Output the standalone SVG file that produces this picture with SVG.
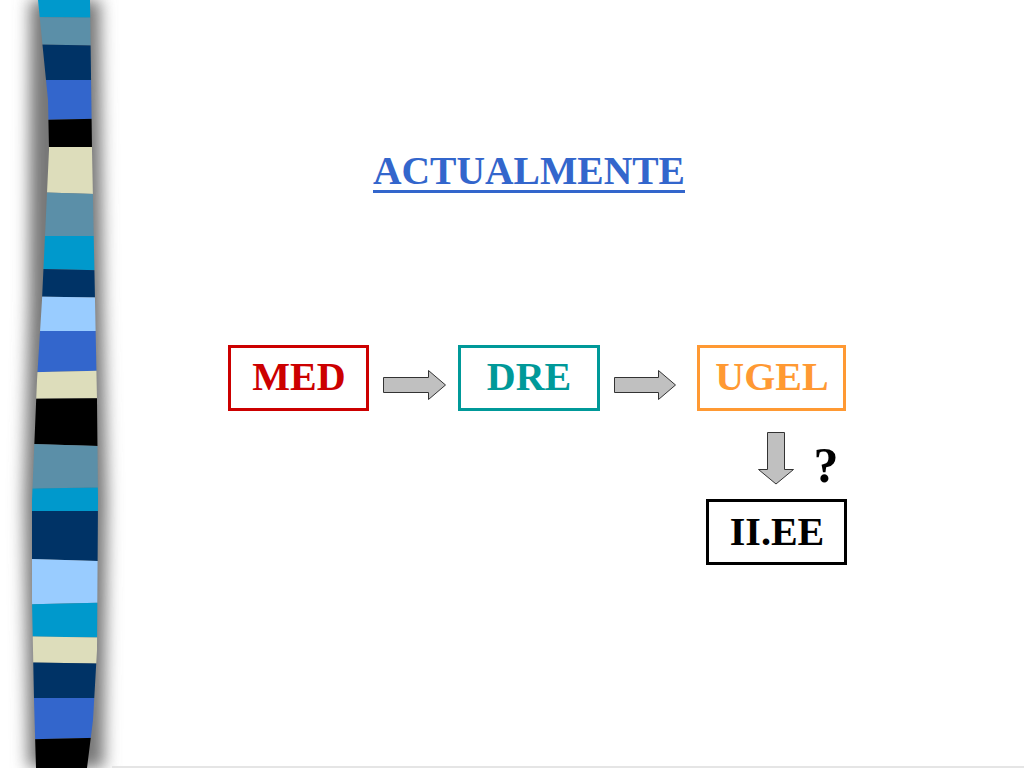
<svg xmlns="http://www.w3.org/2000/svg" width="1024" height="768" viewBox="0 0 1024 768">
<defs>
<style>
.box{fill:#fff;stroke-width:3}
.lbl{font-family:"Liberation Serif","Times New Roman",serif;font-weight:bold;font-size:40px;text-anchor:middle}
.arr{fill:#C0C0C0;stroke:#333;stroke-width:1}
</style>
<clipPath id="stripClip">
<path d="M38,0 L90,0 L92,150 L95,300 L97,400 L98,500 L97,650 L93,720 L87,768 L36,768 L34,700 L32,600 L32,500 L37,380 L42,300 L49,150 L48,100 Z"/>
</clipPath>
<filter id="blur" x="-1" y="-0.1" width="3" height="1.2"><feGaussianBlur stdDeviation="8"/></filter>
</defs>
<rect width="1024" height="768" fill="#fff"/>
<g id="strip">
<path d="M30,0 L100,0 L103,300 L107,500 L104,768 L28,768 L24,500 L29,300 Z" fill="#777" filter="url(#blur)"/>
<g clip-path="url(#stripClip)">
<polygon points="0,0 130,0 130,18 0,17" fill="#0099CC"/>
<polygon points="0,17 130,18 130,46 0,44" fill="#5B8FA8"/>
<polygon points="0,44 130,46 130,80 0,80" fill="#003366"/>
<polygon points="0,80 130,80 130,118 0,121" fill="#3366CC"/>
<polygon points="0,121 130,118 130,147 0,147" fill="#000"/>
<polygon points="0,147 130,147 130,195 0,191" fill="#DDDDBB"/>
<polygon points="0,191 130,195 130,236 0,236" fill="#5B8FA8"/>
<polygon points="0,236 130,236 130,271 0,268" fill="#0099CC"/>
<polygon points="0,268 130,271 130,298 0,296" fill="#003366"/>
<polygon points="0,296 130,298 130,331 0,331" fill="#99CCFF"/>
<polygon points="0,331 130,331 130,370 0,373" fill="#3366CC"/>
<polygon points="0,373 130,370 130,398 0,399" fill="#DDDDBB"/>
<polygon points="0,399 130,398 130,447 0,443" fill="#000"/>
<polygon points="0,443 130,447 130,487 0,489" fill="#5B8FA8"/>
<polygon points="0,489 130,487 130,511 0,511" fill="#0099CC"/>
<polygon points="0,511 130,511 130,562 0,558" fill="#003366"/>
<polygon points="0,558 130,562 130,602 0,605" fill="#99CCFF"/>
<polygon points="0,605 130,602 130,638 0,636" fill="#0099CC"/>
<polygon points="0,636 130,638 130,664 0,662" fill="#DDDDBB"/>
<polygon points="0,662 130,664 130,698 0,698" fill="#003366"/>
<polygon points="0,698 130,698 130,737 0,740" fill="#3366CC"/>
<polygon points="0,740 130,737 130,768 0,768" fill="#000"/>
</g>
</g>
<line x1="112" y1="767" x2="1024" y2="767" stroke="#ddd" stroke-width="1.5"/>
<g id="title">
<text x="529" y="184" class="lbl" fill="#3366CC" textLength="312" lengthAdjust="spacingAndGlyphs">ACTUALMENTE</text>
<rect x="373" y="190" width="312" height="3" fill="#3366CC"/>
</g>
<g id="connectors">
<polygon class="arr" points="383.5,377.5 428.5,377.5 428.5,370.5 445.5,385 428.5,399.5 428.5,392.5 383.5,392.5"/>
<polygon class="arr" points="614.5,377.5 658.5,377.5 658.5,370.5 675.5,385 658.5,399.5 658.5,392.5 614.5,392.5"/>
<polygon class="arr" points="767.5,432.5 784.5,432.5 784.5,469.5 793.5,469.5 776,484 758.5,469.5 767.5,469.5"/>
</g>
<g id="med">
<rect class="box" x="229.5" y="346.5" width="138" height="63" stroke="#CC0000"/>
<text x="299" y="390" class="lbl" fill="#CC0000">MED</text>
</g>
<g id="dre">
<rect class="box" x="459.5" y="346.5" width="139" height="63" stroke="#009999"/>
<text x="529" y="390" class="lbl" fill="#009999">DRE</text>
</g>
<g id="ugel">
<rect class="box" x="698.5" y="346.5" width="146" height="63" stroke="#FF9933"/>
<text x="772" y="390" class="lbl" fill="#FF9933">UGEL</text>
</g>
<g id="iiee">
<rect class="box" x="707.5" y="500.5" width="138" height="63" stroke="#000"/>
<text x="777" y="545" class="lbl" fill="#000">II.EE</text>
</g>
<text x="826" y="482" class="lbl" fill="#000" style="font-size:50px">?</text>
</svg>
